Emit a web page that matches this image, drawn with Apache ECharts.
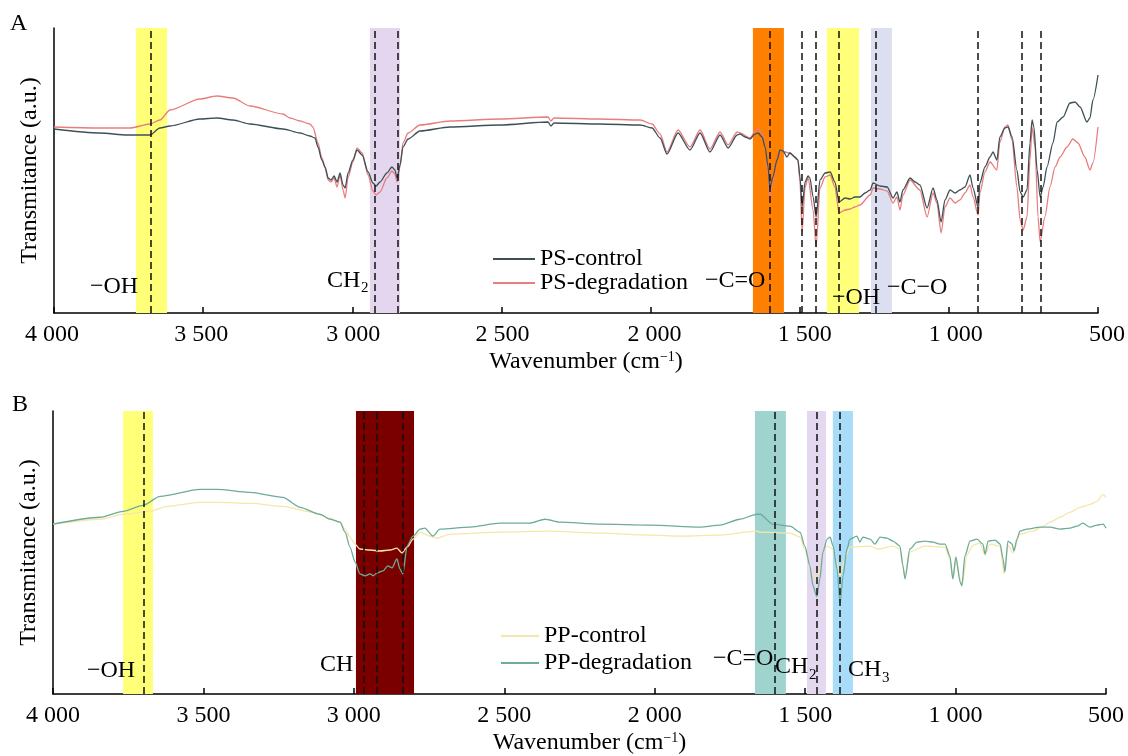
<!DOCTYPE html>
<html>
<head>
<meta charset="utf-8">
<script src="https://cdn.jsdelivr.net/npm/echarts@6/dist/echarts.min.js"></script>
<style>
html, body { margin: 0; padding: 0; background: #fff; }
#chart { width: 1128px; height: 756px; }
</style>
</head>
<body>
<div id="chart"></div>
<script>
// wavenumber (cm-1), transmittance (a.u.)
const psControl = [[4000,184],[3846,180],[3755,178],[3678,178],[3645,185],[3611,187],[3511,194],[3454,195],[3400,193],[3343,189],[3232,184],[3175,180],[3142,177],[3125,175],[3115,166],[3102,153],[3091,146],[3081,135],[3071,133],[3061,137],[3051,131],[3041,140],[3031,128],[3024,125],[3014,140],[2998,153],[2984,163],[2967,158],[2947,141],[2931,130],[2920,127],[2907,131],[2884,140],[2867,146],[2857,143],[2850,135],[2840,148],[2830,166],[2813,174],[2773,182],[2672,186],[2505,188],[2344,191],[2334,187],[2324,190],[2170,189],[2035,188],[1995,185],[1968,175],[1945,159],[1908,180],[1868,163],[1834,180],[1801,161],[1767,178],[1740,165],[1710,178],[1700,179],[1683,176],[1667,174],[1650,179],[1640,180],[1626,176],[1616,166],[1606,146],[1600,125],[1590,136],[1576,153],[1566,163],[1556,162],[1543,156],[1533,160],[1516,156],[1506,153],[1499,136],[1492,106],[1482,131],[1472,137],[1466,135],[1455,116],[1445,96],[1432,133],[1415,140],[1398,141],[1382,131],[1368,111],[1348,115],[1331,114],[1315,116],[1298,116],[1281,120],[1264,123],[1254,130],[1231,127],[1207,126],[1187,115],[1174,121],[1164,111],[1154,123],[1130,135],[1113,131],[1097,128],[1073,105],[1053,125],[1040,113],[1026,91],[1013,113],[996,123],[979,120],[963,123],[946,126],[929,138],[919,125],[902,106],[896,130],[879,146],[862,156],[852,161],[839,153],[829,176],[812,185],[802,186],[788,176],[772,143],[761,121],[751,116],[738,123],[728,170],[721,193],[715,186],[704,143],[694,116],[684,126],[671,146],[651,170],[637,191],[617,196],[594,210],[577,211],[560,206],[537,191],[527,195],[517,213],[500,238]];
const psDegradation = [[4000,186],[3846,185],[3745,185],[3678,189],[3645,193],[3611,203],[3511,214],[3454,217],[3400,215],[3343,207],[3232,199],[3209,195],[3175,192],[3142,189],[3132,186],[3115,170],[3102,155],[3091,145],[3081,133],[3071,131],[3061,135],[3051,126],[3041,138],[3031,123],[3024,115],[3014,136],[2998,151],[2984,165],[2967,160],[2947,138],[2931,122],[2920,118],[2907,121],[2884,135],[2867,142],[2857,139],[2850,131],[2840,146],[2830,170],[2813,180],[2773,188],[2672,192],[2505,194],[2344,196],[2334,192],[2324,195],[2170,194],[2035,193],[1995,189],[1968,179],[1945,161],[1908,183],[1868,166],[1834,183],[1801,164],[1767,181],[1740,168],[1710,181],[1700,180],[1667,175],[1650,181],[1640,185],[1626,179],[1616,168],[1606,140],[1600,115],[1590,131],[1576,153],[1566,162],[1533,160],[1506,153],[1499,131],[1492,81],[1482,126],[1472,135],[1455,103],[1445,66],[1432,125],[1415,136],[1398,138],[1382,126],[1368,100],[1348,103],[1331,104],[1315,106],[1298,108],[1264,118],[1254,125],[1231,124],[1207,122],[1187,110],[1174,116],[1164,103],[1154,118],[1130,133],[1097,123],[1073,96],[1053,120],[1040,110],[1026,80],[1013,106],[996,115],[979,110],[963,113],[946,120],[929,128],[919,116],[902,98],[896,120],[879,141],[862,151],[839,143],[829,171],[812,186],[802,188],[788,173],[772,126],[761,93],[751,83],[738,96],[728,153],[721,186],[711,166],[701,96],[694,71],[678,96],[661,126],[644,146],[627,156],[604,166],[584,174],[567,170],[544,156],[527,143],[517,150],[500,186]];
const ppControl = [[4000,171],[3844,176],[3767,181],[3678,184],[3621,189],[3511,193],[3455,193],[3345,192],[3236,189],[3136,183],[3079,177],[3046,173],[3029,166],[3013,158],[2996,151],[2980,146],[2946,145],[2913,144],[2880,145],[2857,147],[2840,142],[2823,148],[2803,156],[2780,163],[2747,159],[2724,157],[2680,161],[2514,163],[2348,164],[2182,162],[2016,160],[1916,159],[1783,160],[1660,164],[1650,163],[1550,162],[1517,158],[1501,146],[1484,129],[1474,119],[1461,116],[1451,126],[1441,143],[1427,149],[1407,146],[1394,133],[1384,119],[1368,136],[1351,148],[1284,149],[1258,146],[1208,149],[1185,146],[1168,119],[1152,143],[1102,149],[1035,148],[1019,136],[1009,116],[999,134],[979,109],[962,140],[942,150],[919,152],[902,140],[886,151],[852,149],[839,121],[826,150],[809,142],[786,161],[743,164],[709,169],[686,173],[653,178],[620,183],[586,188],[553,191],[530,194],[510,201],[500,198]];
const ppDegradation = [[4000,171],[3844,178],[3767,184],[3701,190],[3644,199],[3511,206],[3455,206],[3345,203],[3236,198],[3179,188],[3113,181],[3079,176],[3046,173],[3029,163],[3013,148],[2996,133],[2980,121],[2963,119],[2946,121],[2936,119],[2923,122],[2903,124],[2887,129],[2873,127],[2857,136],[2847,126],[2837,121],[2823,149],[2803,159],[2780,166],[2764,167],[2737,159],[2714,166],[2614,168],[2514,172],[2415,172],[2365,176],[2315,173],[2182,171],[2016,170],[1850,168],[1783,170],[1717,176],[1660,181],[1650,181],[1607,171],[1550,169],[1517,163],[1501,149],[1484,129],[1474,109],[1461,98],[1451,116],[1441,143],[1427,156],[1417,158],[1407,149],[1394,126],[1384,91],[1374,119],[1361,146],[1351,156],[1328,159],[1318,153],[1308,158],[1284,156],[1268,151],[1251,158],[1228,157],[1208,154],[1185,149],[1175,129],[1168,116],[1152,146],[1128,153],[1102,154],[1075,153],[1052,151],[1035,151],[1019,139],[1009,116],[999,138],[985,113],[979,109],[969,139],[952,154],[929,156],[909,151],[902,141],[892,154],[869,155],[852,151],[842,136],[836,123],[826,154],[812,151],[806,144],[796,156],[786,164],[763,166],[719,168],[686,168],[653,166],[620,167],[596,169],[577,172],[553,168],[530,170],[510,171],[500,167]];

// highlighted bands [from, to] and dashed peak positions
const psBands = [[3725,3621],[2941,2840],[1657,1553],[1409,1301],[1261,1191]];
const psPeaks = [3675,2924,2847,1600,1492,1446,1368,1244,902,755,691];
const ppBands = [[3767,3668],[2993,2800],[1667,1564],[1494,1431],[1408,1341]];
const ppPeaks = [3698,2966,2923,2837,1601,1461,1384];
const xTicks = [4000,3500,3000,2500,2000,1500,1000,500];

const psBandColors = ['#ffff78','#e3d6ee','#ff7f00','#ffff7a','#dcdff0'];
const ppBandColors = ['#ffff78','#7a0000','#9fd3ce','#e4d7f0','#a9dcf8'];
// tick labels of panel A sit a little right of their ticks in the original
const labelShiftA = { 4000: -2, 3500: -2, 3000: 1, 2500: 1, 2000: 4, 1500: 5, 1000: 7, 500: 9 };

const FONT = '"Liberation Serif", "Times New Roman", serif';
const chart = echarts.init(document.getElementById('chart'));

function fmtTick(v) {
    if (v >= 1000) return Math.floor(v / 1000) + ' ' + String(v % 1000).padStart(3, '0');
    return String(v);
}

function xAxisOf(gridIndex, shift) {
    const rich = {};
    xTicks.forEach(t => {
        const s = shift ? (shift[t] || 0) : 0;
        rich['t' + t] = { color: '#000', fontSize: 24, fontFamily: FONT,
            padding: s >= 0 ? [0, 0, 0, 2 * s] : [0, -2 * s, 0, 0] };
    });
    return {
        type: 'value', gridIndex: gridIndex,
        min: 500, max: 4000, interval: 500, inverse: true,
        axisLine: { lineStyle: { color: '#000', width: 1.5 } },
        axisTick: { inside: true, length: 6, lineStyle: { color: '#000', width: 1.5 } },
        axisLabel: { color: '#000', fontSize: 24, fontFamily: FONT, margin: 10, rich: rich,
            formatter: v => xTicks.indexOf(v) >= 0 ? '{t' + v + '|' + fmtTick(v) + '}' : '' },
        splitLine: { show: false },
        name: 'Wavenumber (cm{sup|\u22121})',
        nameLocation: 'middle', nameGap: 37,
        nameTextStyle: { color: '#000', fontSize: 24, fontFamily: FONT, padding: [0, 0, 0, 20],
            rich: { sup: { fontSize: 14, fontFamily: FONT, color: '#000', lineHeight: 14, padding: [0, 0, 10, 0] } } }
    };
}

function yAxisOf(gridIndex) {
    return {
        type: 'value', gridIndex: gridIndex, min: 0, max: 285,
        axisLine: { show: true, lineStyle: { color: '#000', width: 1.5 } },
        axisTick: { show: false }, axisLabel: { show: false }, splitLine: { show: false },
        name: 'Transmitance (a.u.)', nameLocation: 'middle', nameGap: 12, nameRotate: 90,
        nameTextStyle: { color: '#000', fontSize: 24, fontFamily: FONT }
    };
}

function lineSeries(name, data, color, idx, z) {
    return {
        name: name, type: 'line', data: data, xAxisIndex: idx, yAxisIndex: idx,
        symbol: 'none', smooth: 0.25, smoothMonotone: 'x', z: z,
        lineStyle: { color: color, width: 1.3 }, itemStyle: { color: color }
    };
}

function markerSeries(idx, bands, colors, peaks) {
    return {
        type: 'line', data: [], xAxisIndex: idx, yAxisIndex: idx, z: 1, silent: true,
        markArea: { silent: true, data: bands.map((b, i) => [
            { xAxis: b[0], itemStyle: { color: colors[i], opacity: 1 } }, { xAxis: b[1] }]) },
        markLine: { silent: true, symbol: ['none', 'none'], label: { show: false },
            lineStyle: { color: '#111', width: 1.5, type: [7, 4] },
            data: peaks.map(p => ({ xAxis: p })) }
    };
}

function txt(x, y, s, size) {
    return { type: 'text', x: x, y: y, z: 10,
        style: { text: s, fill: '#000', font: (size || 24) + 'px ' + FONT, align: 'left', verticalAlign: 'middle' } };
}

const option = {
    animation: false,
    backgroundColor: '#fff',
    grid: [
        { left: 54, top: 28, width: 1044, height: 285 },
        { left: 53, top: 411, width: 1053, height: 285 }
    ],
    xAxis: [xAxisOf(0, labelShiftA), xAxisOf(1, null)],
    yAxis: [yAxisOf(0), yAxisOf(1)],
    legend: [
        { data: ['PS-control', 'PS-degradation'], orient: 'vertical', left: 488, top: 242,
          itemWidth: 42, itemHeight: 2, itemGap: 0, icon: 'rect',
          textStyle: { color: '#000', fontSize: 24, fontFamily: FONT } },
        { data: ['PP-control', 'PP-degradation'], orient: 'vertical', left: 496, top: 619,
          itemWidth: 38, itemHeight: 2, itemGap: 3, icon: 'rect',
          textStyle: { color: '#000', fontSize: 24, fontFamily: FONT } }
    ],
    series: [
        markerSeries(0, psBands, psBandColors, psPeaks),
        lineSeries('PS-degradation', psDegradation, '#e87d7d', 0, 3),
        lineSeries('PS-control', psControl, '#3e5057', 0, 4),
        markerSeries(1, ppBands, ppBandColors, ppPeaks),
        lineSeries('PP-control', ppControl, '#f6e6aa', 1, 3),
        lineSeries('PP-degradation', ppDegradation, '#6dab9a', 1, 4)
    ],
    graphic: [
        txt(10, 24, 'A'),
        txt(12, 405, 'B'),
        txt(90, 287, '\u2212OH'),
        txt(327, 281, 'CH'), txt(361, 288, '2', 15),
        txt(705, 281, '\u2212C=O'),
        txt(832, 298, '\u2212OH'),
        txt(887, 288, '\u2212C\u2212O'),
        txt(87, 671, '\u2212OH'),
        txt(320, 665, 'CH'),
        txt(713, 659, '\u2212C=O'),
        txt(775, 667, 'CH'), txt(809, 675, '2', 15),
        txt(848, 670, 'CH'), txt(882, 678, '3', 15)
    ]
};

chart.setOption(option);
window.addEventListener('resize', () => chart.resize());
</script>
</body>
</html>
